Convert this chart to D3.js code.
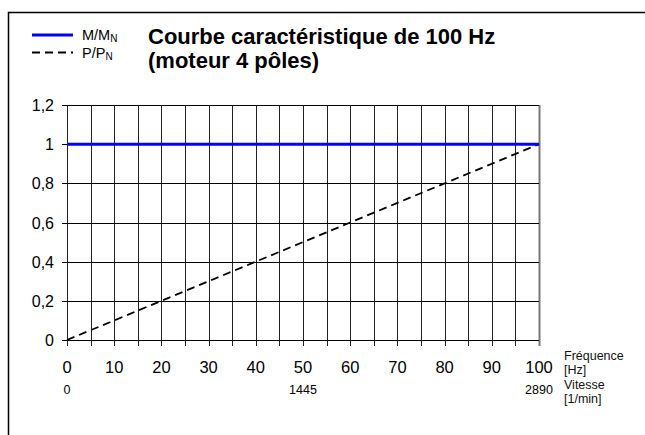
<!DOCTYPE html>
<html>
<head>
<meta charset="utf-8">
<script src="https://cdn.jsdelivr.net/npm/d3@7/dist/d3.min.js"></script>
<style>
  html, body { margin: 0; padding: 0; background: #fff; }
  svg { display: block; }
  .narrow { font-family: "Liberation Sans Narrow", "Arial Narrow", "Liberation Sans", sans-serif; font-stretch: condensed; }
</style>
</head>
<body>
<script>
// Frequency points [Hz] and the two characteristic curves
const frequency = [0, 10, 20, 30, 40, 50, 60, 70, 80, 90, 100];
const torqueRatio = [1, 1, 1, 1, 1, 1, 1, 1, 1, 1, 1];          // M/MN
const powerRatio = [0, 0.1, 0.2, 0.3, 0.4, 0.5, 0.6, 0.7, 0.8, 0.9, 1]; // P/PN

const yTicks = [0, 0.2, 0.4, 0.6, 0.8, 1, 1.2];
const yTickLabels = ["0", "0,2", "0,4", "0,6", "0,8", "1", "1,2"];
const xTicks = [0, 10, 20, 30, 40, 50, 60, 70, 80, 90, 100];
const xGrid = [0, 5, 10, 15, 20, 25, 30, 35, 40, 45, 50, 55, 60, 65, 70, 75, 80, 85, 90, 95, 100];
const speedValues = [0, 1445, 2890];
const speedFreq = [0, 50, 100];

const W = 645, H = 435;
const svg = d3.select("body").append("svg").attr("width", W).attr("height", H);

const x = d3.scaleLinear().domain([0, 100]).range([67, 539]);
const y = d3.scaleLinear().domain([0, 1.2]).range([340, 105]);

const font = "'Liberation Sans', Arial, sans-serif";

// frame (top and left edges)
svg.append("path")
  .attr("d", `M8.5,${H} L8.5,12.5 L${W},12.5`)
  .attr("fill", "none").attr("stroke", "#000").attr("stroke-width", 1.5);

// vertical grid every 5 Hz, with ticks below the axis
const vg = svg.append("g");
vg.selectAll("line").data(xGrid).join("line")
  .attr("x1", d => Math.round(x(d)) + 0.5).attr("x2", d => Math.round(x(d)) + 0.5)
  .attr("y1", y(1.2)).attr("y2", y(0) + 6)
  .attr("stroke", d => d === 100 ? "#777" : "#222")
  .attr("stroke-width", d => d === 100 ? 2 : 1);

// horizontal grid with ticks to the left
const hg = svg.append("g");
hg.selectAll("line").data(yTicks).join("line")
  .attr("x1", x(0) - 5).attr("x2", x(100))
  .attr("y1", d => Math.round(y(d)) + 0.5).attr("y2", d => Math.round(y(d)) + 0.5)
  .attr("stroke", "#000").attr("stroke-width", 1);

// y tick labels
svg.append("g").selectAll("text").data(yTicks).join("text")
  .attr("x", 54).attr("y", d => y(d) + 6)
  .attr("text-anchor", "end")
  .attr("font-family", font).attr("font-size", 16)
  .text((d, i) => yTickLabels[i]);

// x tick labels (frequency)
svg.append("g").selectAll("text").data(xTicks).join("text")
  .attr("x", d => x(d)).attr("y", 373)
  .attr("text-anchor", "middle")
  .attr("font-family", font).attr("font-size", 16.5)
  .text(d => d);

// speed labels
svg.append("g").selectAll("text").data(speedValues).join("text")
  .attr("x", (d, i) => x(speedFreq[i])).attr("y", 394)
  .attr("text-anchor", "middle")
  .attr("font-family", font).attr("font-size", 12.5)
  .text(d => d);

// axis unit captions
const cap = svg.append("g").attr("class", "narrow").attr("font-size", 12.5).attr("fill", "#111");
cap.append("text").attr("x", 564).attr("y", 360).text("Fréquence");
cap.append("text").attr("x", 564).attr("y", 374).text("[Hz]");
cap.append("text").attr("x", 564).attr("y", 388.5).text("Vitesse");
cap.append("text").attr("x", 564).attr("y", 402.5).text("[1/min]");

// curves
const line = d3.line().x(d => x(d[0])).y(d => y(d[1]));
svg.append("path")
  .datum(frequency.map((f, i) => [f, powerRatio[i]]))
  .attr("d", line).attr("fill", "none")
  .attr("stroke", "#000").attr("stroke-width", 1.8).attr("stroke-dasharray", "8,5");
svg.append("path")
  .datum(frequency.map((f, i) => [f, torqueRatio[i]]))
  .attr("d", line).attr("fill", "none")
  .attr("stroke", "#0000ff").attr("stroke-width", 3);

// legend
const lg = svg.append("g").attr("font-family", font).attr("font-size", 14.5);
lg.append("line").attr("x1", 32).attr("x2", 73).attr("y1", 35).attr("y2", 35)
  .attr("stroke", "#0000ff").attr("stroke-width", 3);
const t1 = lg.append("text").attr("x", 82).attr("y", 40);
t1.append("tspan").text("M/M");
t1.append("tspan").attr("font-size", 10).attr("dy", 2).text("N");
lg.append("line").attr("x1", 32).attr("x2", 73).attr("y1", 52.5).attr("y2", 52.5)
  .attr("stroke", "#000").attr("stroke-width", 1.8).attr("stroke-dasharray", "8,5");
const t2 = lg.append("text").attr("x", 82).attr("y", 58);
t2.append("tspan").text("P/P");
t2.append("tspan").attr("font-size", 10).attr("dy", 2).text("N");

// title
const title = svg.append("g").attr("font-family", font).attr("font-size", 22).attr("font-weight", "bold");
title.append("text").attr("x", 148).attr("y", 44).text("Courbe caractéristique de 100 Hz");
title.append("text").attr("x", 148).attr("y", 68).text("(moteur 4 pôles)");
</script>
</body>
</html>
